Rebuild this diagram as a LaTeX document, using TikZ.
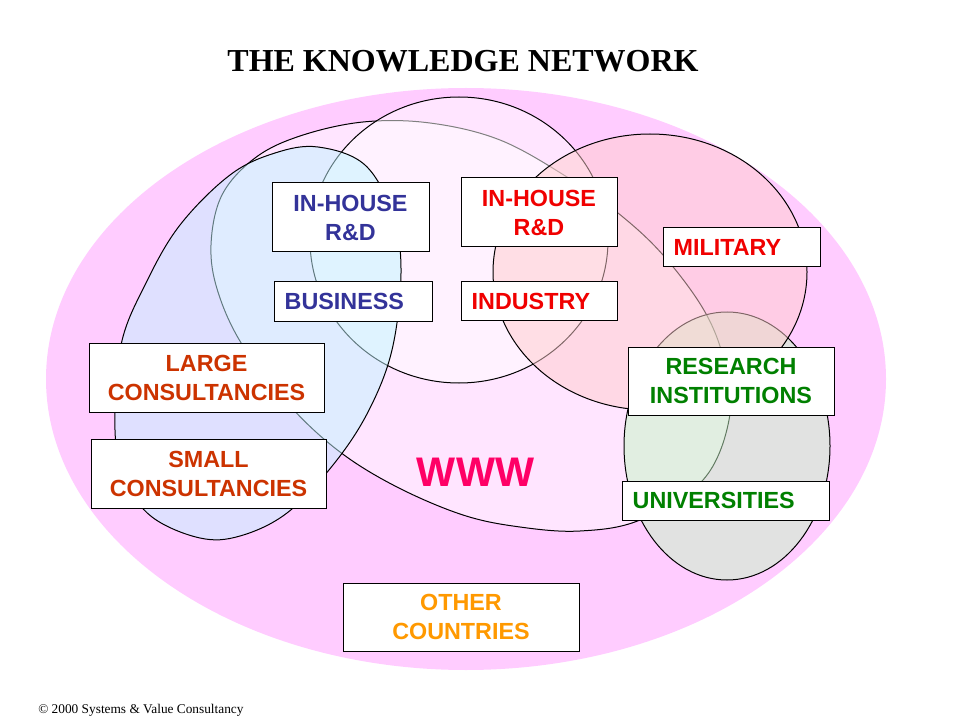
\documentclass[tikz,border=0pt]{standalone}
\usepackage{fontspec}
\setmainfont{Liberation Serif}
\newfontfamily\arialfont{Liberation Sans}
\definecolor{bgpink}{RGB}{255,204,255}
\definecolor{consfill}{RGB}{193,244,255}
\definecolor{resfill}{RGB}{197,248,197}
\definecolor{indfill}{RGB}{255,204,205}
\definecolor{bizblue}{RGB}{51,51,153}
\definecolor{indred}{RGB}{240,0,0}
\definecolor{consred}{RGB}{204,51,0}
\definecolor{resgreen}{RGB}{0,128,0}
\definecolor{otherorange}{RGB}{255,153,0}
\definecolor{wwwred}{RGB}{255,0,102}
\tikzset{
  area/.style={draw=black, line width=0.75pt, fill opacity=0.5},
  box/.style={draw, fill=white, line width=0.75pt, inner sep=0pt,
    font=\arialfont\bfseries\fontsize{17.5}{21.75}\selectfont},
  mid box/.style={box, align=center},
  left box/.style={box, text width=#1, align=left, inner xsep=8pt, minimum height=29.25pt},
}
\begin{document}
\begin{tikzpicture}[x=0.75pt, y=-0.75pt]
\useasboundingbox (0,0) rectangle (960,720);
%background
\fill[bgpink] (466,379) ellipse [x radius=420, y radius=291];
%www area
\draw[area, fill=white] plot[smooth cycle, tension=0.6] coordinates {
  (300,136) (363,122) (430,123) (500,140) (567,177) (618,213)
  (663,255) (705,312) (725,365) (729,420) (703,480) (640,520)
  (580,531) (520,527) (463,515) (397,487) (340,452) (290,406) (243,346)
  (218,292) (211,245) (222,195) (255,158)};
%business
\draw[area, fill=white] (459,240) ellipse [x radius=149, y radius=143];
%consultancies
\draw[area, fill=consfill] plot[smooth cycle, tension=0.6] coordinates {
  (318,147) (365,165) (393,215) (401,273) (392,350)
  (368,412) (333,465) (287,513) (240,536) (200,538)
  (152,517) (125,480) (115,430) (121,345) (146,283) (180,225)
  (230,175) (275,153)};
%research
\draw[area, fill=resfill] (727,446) ellipse [x radius=103, y radius=134];
%industry
\draw[area, fill=indfill] (650,272) ellipse [x radius=157, y radius=138];

\node[font=\bfseries\fontsize{24}{28}\selectfont, anchor=base] (title) at (463,72) {THE KNOWLEDGE NETWORK};

%boxes on the left
\node[mid box, text=bizblue, minimum width=117.75pt, minimum height=51.75pt] (rdbiz) at (350.5,217.5) {IN-HOUSE\\R\&D};
\node[left box=102.5pt, text=bizblue] (biz) at (353,301.5) {BUSINESS};
\node[mid box, text=consred, minimum width=176.25pt, minimum height=51.75pt] (large) at (206.5,377.5) {LARGE\\CONSULTANCIES};
\node[mid box, text=consred, minimum width=176.25pt, minimum height=51.75pt] (small) at (208.5,473.5) {SMALL\\CONSULTANCIES};
%boxes on the right
\node[mid box, text=indred, minimum width=117pt, minimum height=51.75pt] (rdind) at (539,212.5) {IN-HOUSE\\R\&D};
\node[left box=101pt, text=indred] (ind) at (539,301) {INDUSTRY};
\node[left box=101.75pt, text=indred] (mil) at (741.5,247.5) {MILITARY};
\node[mid box, text=resgreen, minimum width=154.5pt, minimum height=51pt] (res) at (731,381) {RESEARCH\\INSTITUTIONS};
\node[left box=139.25pt, text=resgreen] (uni) at (725.5,500.5) {UNIVERSITIES};
\node[mid box, text=otherorange, minimum width=177pt, minimum height=51pt] (other) at (461,617) {OTHER\\COUNTRIES};

\node[font=\arialfont\bfseries\fontsize{31}{36}\selectfont, text=wwwred, anchor=base] (www) at (475.5,486) {WWW};
\node[font=\fontsize{10}{12}\selectfont, anchor=base west, inner sep=0pt] (copy) at (38,713) {\textcopyright{} 2000 Systems \& Value Consultancy};
\end{tikzpicture}
\end{document}
